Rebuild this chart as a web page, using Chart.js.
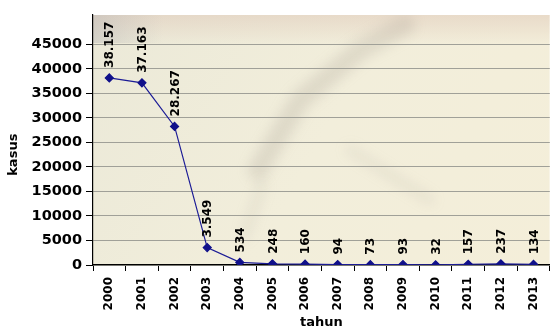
<!DOCTYPE html>
<html><head><meta charset="utf-8">
<script src="https://cdn.jsdelivr.net/npm/chart.js@4"></script>
<style>html,body{margin:0;padding:0;background:#fff}#wrap{width:555px;height:330px;position:relative}</style>
</head><body><div id="wrap"><canvas id="c"></canvas></div>
<script>
const years = ['2000','2001','2002','2003','2004','2005','2006','2007','2008','2009','2010','2011','2012','2013'];
const kasus = [38157,37163,28267,3549,534,248,160,94,73,93,32,157,237,134];
const yTickValues = [0,5000,10000,15000,20000,25000,30000,35000,40000,45000];
const xTitle = 'tahun';
const yTitle = 'kasus';

const FONT = '"DejaVu Sans", Verdana, sans-serif';
function fmt(v){ return String(v).replace(/\B(?=(\d{3})+(?!\d))/g,'.'); }

const bgPlugin = {
  id:'bg',
  beforeDraw(chart){
    const {ctx, chartArea:a} = chart;
    ctx.save();
    ctx.beginPath(); ctx.rect(a.left, a.top, a.right-a.left, a.bottom-a.top); ctx.clip();
    let g = ctx.createLinearGradient(a.left, a.top, a.right, a.bottom);
    g.addColorStop(0,'#ebe9d8'); g.addColorStop(0.5,'#f2eedb'); g.addColorStop(1,'#f4eed9');
    ctx.fillStyle = g; ctx.fillRect(a.left,a.top,a.right-a.left,a.bottom-a.top);
    let g2 = ctx.createLinearGradient(0,a.top,0,a.top+30);
    g2.addColorStop(0,'rgba(220,195,180,0.45)'); g2.addColorStop(1,'rgba(220,195,180,0)');
    ctx.fillStyle = g2; ctx.fillRect(a.left,a.top,a.right-a.left,30);
    let g3 = ctx.createLinearGradient(a.left,0,a.left+70,0);
    g3.addColorStop(0,'rgba(170,170,175,0.35)'); g3.addColorStop(1,'rgba(170,170,175,0)');
    ctx.fillStyle = g3; ctx.fillRect(a.left,a.top,70,28);
    ctx.filter = 'blur(6px)';
    ctx.strokeStyle = 'rgba(150,140,130,0.2)';
    ctx.lineWidth = 20; ctx.lineCap='round';
    ctx.beginPath(); ctx.moveTo(258,170); ctx.lineTo(300,100); ctx.lineTo(360,50); ctx.lineTo(405,25); ctx.stroke();
    ctx.strokeStyle = 'rgba(160,150,140,0.12)';
    ctx.lineWidth = 10;
    ctx.beginPath(); ctx.moveTo(245,235); ctx.lineTo(262,185); ctx.stroke();
    ctx.beginPath(); ctx.moveTo(350,150); ctx.lineTo(430,200); ctx.stroke();
    ctx.filter = 'none';
    ctx.restore();
  }
};

const labelPlugin = {
  id:'vlabels',
  afterDatasetsDraw(chart){
    const ctx = chart.ctx;
    const meta = chart.getDatasetMeta(0);
    ctx.save();
    ctx.font = 'bold 12px ' + FONT;
    ctx.fillStyle = '#000';
    meta.data.forEach((pt,i)=>{
      ctx.save();
      ctx.translate(pt.x+1, pt.y-10);
      ctx.rotate(-Math.PI/2);
      ctx.textAlign='left'; ctx.textBaseline='middle';
      ctx.fillText(fmt(kasus[i]),0,0);
      ctx.restore();
    });
    // y axis title centred on the labelled range
    const y = chart.scales.y;
    const cy = (y.getPixelForValue(yTickValues[0]) + y.getPixelForValue(yTickValues[yTickValues.length-1]))/2;
    ctx.save();
    ctx.font = 'bold 13px ' + FONT;
    ctx.translate(14, cy);
    ctx.rotate(-Math.PI/2);
    ctx.textAlign='center'; ctx.textBaseline='middle';
    ctx.fillText(yTitle,0,0);
    ctx.restore();
    ctx.restore();
  }
};

new Chart(document.getElementById('c'), {
  type:'line',
  data:{ labels: years, datasets:[{
    data: kasus,
    borderColor:'#1c1c96', borderWidth:1.2,
    pointStyle:'rectRot', pointRadius:4, pointHoverRadius:4,
    pointBackgroundColor:'#10108a', pointBorderColor:'#10108a',
    tension:0, fill:false
  }]},
  options:{
    responsive:true, maintainAspectRatio:false, animation:false,
    events:[],
    layout:{ padding:{ top:15, right:0, left:0, bottom:0 } },
    plugins:{ legend:{display:false}, tooltip:{enabled:false} },
    scales:{
      x:{
        offset:true,
        afterFit(s){ s.height = 65; },
        grid:{ offset:true, drawOnChartArea:false, tickLength:6, tickColor:'#000' },
        border:{ color:'#000', width:1.2 },
        ticks:{ minRotation:90, maxRotation:90, padding:6, color:'#000', font:{ family:FONT, weight:'bold', size:12 } },
        title:{ display:true, text:xTitle, color:'#000', padding:{top:0,bottom:0}, font:{ family:FONT, weight:'bold', size:13 } }
      },
      y:{
        min:0, max:51000,
        afterFit(s){ s.width = 93; },
        afterBuildTicks(s){ s.ticks = yTickValues.map(v=>({value:v})); },
        grid:{ color:'#a0a098', lineWidth:1, tickLength:7, tickColor:'#000' },
        border:{ color:'#000', width:1.2 },
        ticks:{ padding:4, color:'#000', callback:(v)=>String(v), font:{ family:FONT, weight:'bold', size:14.5 } },
        title:{ display:false }
      }
    }
  },
  plugins:[bgPlugin, labelPlugin]
});
</script>
</body></html>
